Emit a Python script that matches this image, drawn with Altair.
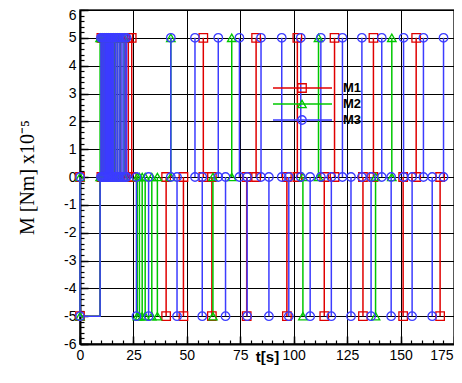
import altair as alt
import pandas as pd

# ---------------- data ----------------
series_names = ["M1", "M2", "M3"]
series_colors = ["#e00000", "#00c800", "#3c3cff"]
series_shapes = ["square", "triangle-up", "circle"]

hold_level = -5.0       # every series starts held at -5
hold_end = 9.4          # time at which the hold ends

# burst of +5 pulses at the start (chattering phase)
m1_burst = [10.0, 11.0, 12.0, 13.0, 14.0, 15.0, 16.0, 17.5, 19.0, 21.1, 22.6, 24.2]
m2_burst = [9.4, 10.5, 11.5, 12.5, 13.5, 14.5, 15.5, 16.4, 17.5, 18.7, 20.6]
m3_burst = [9.8, 10.3, 10.8, 11.3, 11.8, 12.3, 12.8, 13.3, 13.8, 14.3, 14.8,
            15.3, 15.8, 16.6, 17.4, 18.3, 19.2, 20.1, 21.0, 21.8]

# later +5 pulses
m1_up = [57.7, 82.4, 101.7, 119.1, 137.3, 157.3]
m2_up = [42.5, 71.0, 111.6, 145.9]
m3_up = [42.5, 53.8, 64.7, 74.6, 84.7, 94.4, 103.3, 112.7, 122.8, 131.9,
         141.2, 151.4, 160.7, 170.1]

# -5 pulses
m1_down = [40.3, 48.4, 61.7, 78.0, 96.8, 114.3, 132.4, 151.2, 168.5]
m2_down = [26.8, 27.8, 29.1, 30.5, 33.6, 36.2, 62.2, 104.3, 138.3]
m3_down = [26.4, 32.1, 45.4, 57.2, 68.1, 78.2, 88.4, 97.7, 107.7, 117.6,
           126.8, 136.2, 145.6, 155.4, 164.8]

x_major = [0, 25, 50, 75, 100, 125, 150, 175]
x_minor = list(range(0, 180, 5))
y_major = [-6, -5, -4, -3, -2, -1, 0, 1, 2, 3, 4, 5, 6]
y_minor = [round(v * 0.2, 1) for v in range(-30, 31)]

# ---------------- build tables ----------------
line_rows, pt_rows = [], []
grp = 0
for name, burst, up, down in zip(series_names,
                                 [m1_burst, m2_burst, m3_burst],
                                 [m1_up, m2_up, m3_up],
                                 [m1_down, m2_down, m3_down]):
    grp += 1
    hold = [(0, 0.0), (0, hold_level), (hold_end, hold_level), (hold_end, 0.0)]
    for k, (t, m) in enumerate(hold):
        line_rows.append(dict(t=t, M=m, lser=name, grp=grp, k=k))
    for t, m in hold[:2]:
        pt_rows.append(dict(t=t, M=m, series=name))
    for t, v in [(t, 5.0) for t in burst + up] + [(t, -5.0) for t in down]:
        grp += 1
        line_rows.append(dict(t=t, M=0.0, lser=name, grp=grp, k=0))
        line_rows.append(dict(t=t, M=v, lser=name, grp=grp, k=1))
        pt_rows.append(dict(t=t, M=0.0, series=name))
        pt_rows.append(dict(t=t, M=v, series=name))

df_line = pd.DataFrame(line_rows)
df_pt = pd.DataFrame(pt_rows)

# ---------------- scales / axes ----------------
xscale = alt.Scale(domain=[0, 175], nice=False, zero=False)
yscale = alt.Scale(domain=[-6, 6], nice=False, zero=False)
col_scale = alt.Scale(domain=series_names, range=series_colors)
stroke_scale = alt.Scale(range=series_colors)          # data-driven domain (M1..M3)
shape_scale = alt.Scale(domain=series_names, range=series_shapes)

lab = dict(labelFont="Liberation Sans", labelFontSize=14, labelColor="#000",
           labelFlush=False, labelExpr="'' + datum.value")

axis_main_x = alt.Axis(values=x_major, ticks=False, tickSize=0, labelPadding=4,
                       labelAlign={"condition": {"test": "datum.value == 175", "value": "right"},
                                   "value": "center"},
                       labelOffset={"condition": {"test": "datum.value == 175", "value": -1},
                                    "value": 0},
                       domain=True, domainColor="#000", domainWidth=2,
                       grid=True, gridColor="#000", gridWidth=1, gridOpacity=1,
                       title="t[s]", titleFont="Liberation Sans", titleFontSize=15,
                       titleFontWeight="bold", titleColor="#000",
                       titleBaseline="alphabetic", titleY=17, orient="bottom", **lab)
axis_main_y = alt.Axis(values=y_major, ticks=False, tickSize=0, labelPadding=4,
                       labelOffset={"condition": {"test": "datum.value == 6", "value": 5},
                                    "value": 0},
                       domain=True, domainColor="#000", domainWidth=2,
                       grid=True, gridColor="#000", gridWidth=1, gridOpacity=1,
                       title="M [Nm] x10⁻⁵", titleFont="Liberation Serif",
                       titleFontSize=20, titleFontWeight="normal", titleColor="#000",
                       titleAngle=270, titleAlign="center", titleBaseline="alphabetic",
                       titleX=-47, titleY=167, orient="left", **lab)

def tick_axis(vals, size, orient, width):
    return alt.Axis(values=vals, labels=False, domain=False, grid=False, ticks=True,
                    tickSize=size, tickWidth=width, tickColor="#000",
                    offset=-size, title=None, orient=orient)

legend_lines = alt.Legend(title=None, orient="none", legendX=192, legendY=70,
                          symbolType="stroke", symbolSize=3481, symbolStrokeWidth=1.5,
                          clipHeight=16, rowPadding=0, padding=0,
                          labelFont="Liberation Sans", labelFontSize=13,
                          labelFontWeight="bold", labelColor="#000", labelOffset=10)
legend_marks = alt.Legend(title=None, orient="none", legendX=192, legendY=70,
                          symbolSize=72, symbolStrokeWidth=1.3, symbolOffset=25,
                          clipHeight=16, rowPadding=0, padding=0, labelOpacity=0)

lines = alt.Chart(df_line).mark_line(strokeWidth=1.5, clip=False).encode(
    x=alt.X("t:Q", scale=xscale, axis=axis_main_x),
    y=alt.Y("M:Q", scale=yscale, axis=axis_main_y),
    stroke=alt.Stroke("lser:N", scale=stroke_scale, legend=legend_lines),
    detail="grp:N",
    order="k:Q",
)

points = alt.Chart(df_pt).mark_point(filled=False, size=72, strokeWidth=1.3,
                                     opacity=1, clip=False).encode(
    x=alt.X("t:Q", scale=xscale, axis=tick_axis(x_major, 8, "bottom", 1.5)),
    y=alt.Y("M:Q", scale=yscale, axis=tick_axis(y_major, 8, "left", 1.5)),
    color=alt.Color("series:N", scale=col_scale, legend=legend_marks),
    shape=alt.Shape("series:N", scale=shape_scale, legend=legend_marks),
)

minor = alt.Chart(df_pt).mark_point(opacity=0).encode(
    x=alt.X("t:Q", scale=xscale, axis=tick_axis(x_minor, 4, "bottom", 1.2)),
    y=alt.Y("M:Q", scale=yscale, axis=tick_axis(y_minor, 4, "left", 1.2)),
)

chart = (
    alt.layer(lines, points, minor)
    .resolve_axis(x="independent", y="independent")
    .properties(width=374, height=334,
                padding={"left": 72, "top": 2, "right": 0, "bottom": 22},
                autosize=alt.AutoSizeParams(type="none"),
                background="white")
    .configure_view(stroke="#222", strokeWidth=1.5)
)

chart.save("out.html", embed_options={"renderer": "svg", "actions": False})
